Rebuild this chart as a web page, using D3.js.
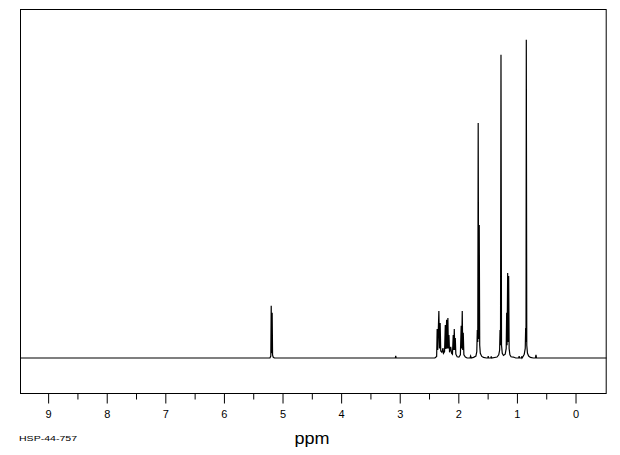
<!DOCTYPE html>
<html>
<head>
<meta charset="utf-8">
<script src="https://cdn.jsdelivr.net/npm/d3@7"></script>
<style>
  html, body { margin: 0; padding: 0; background: #fff; }
  svg { display: block; }
  text { font-family: "Liberation Sans", "DejaVu Sans", sans-serif; fill: #000; }
</style>
</head>
<body>
<svg id="chart" width="620" height="455"></svg>
<script>
// ---- data ----
const majorTicks = [9, 8, 7, 6, 5, 4, 3, 2, 1, 0];
const minorTicks = [8.5, 7.5, 6.5, 5.5, 4.5, 3.5, 2.5, 1.5, 0.5];
const xLabel = "ppm";
const sampleId = "HSP-44-757";

// spectrum trace: [chemical shift (ppm), intensity (tallest = 100)]
const trace = [
  [9.48, 0],
  [5.215, 0], [5.200, 0.6], [5.193, 16.4], [5.186, 1.5], [5.177, 14.2], [5.170, 1.0], [5.160, 0.3], [5.140, 0],
  [3.075, 0], [3.068, 0.7], [3.061, 0],
  [2.400, 0], [2.370, 0.5], [2.361, 9.1], [2.352, 2.5], [2.332, 14.8], [2.322, 3.0], [2.310, 11.0], [2.300, 2.2],
  [2.280, 1.8], [2.262, 3.1], [2.252, 1.5], [2.235, 2.0], [2.222, 10.4], [2.212, 2.8], [2.200, 12.0], [2.190, 3.0],
  [2.178, 12.6], [2.170, 3.0], [2.160, 7.2], [2.150, 1.8], [2.130, 3.5], [2.115, 1.5], [2.100, 1.2], [2.087, 7.2],
  [2.078, 2.5], [2.069, 9.1], [2.060, 2.5], [2.052, 6.3], [2.042, 1.2], [2.020, 0.4], [1.990, 0.3], [1.965, 1.0],
  [1.951, 10.1], [1.943, 3.0], [1.933, 14.8], [1.925, 2.5], [1.916, 7.9], [1.905, 1.0], [1.880, 0.3], [1.850, 0],
  [1.800, 0], [1.790, 0.6], [1.780, 0], [1.740, 0.2], [1.700, 0.6], [1.685, 2.0], [1.676, 8.8], [1.668, 5.0],
  [1.661, 73.9], [1.652, 6.0], [1.643, 41.8], [1.635, 4.0], [1.625, 1.5], [1.600, 0.5], [1.570, 0.2], [1.520, 0],
  [1.497, 0], [1.490, 0.6], [1.483, 0], [1.445, 0], [1.438, 0.5], [1.431, 0],
  [1.340, 0.3], [1.310, 1.0], [1.295, 2.5], [1.288, 8.8], [1.280, 4.0], [1.272, 95.3], [1.263, 4.0], [1.250, 1.5],
  [1.230, 0.8], [1.200, 1.2], [1.183, 3.0], [1.175, 14.2], [1.168, 4.0], [1.158, 26.7], [1.150, 5.0], [1.141, 25.8],
  [1.133, 3.0], [1.120, 1.0], [1.100, 0.4], [1.060, 0.3], [1.020, 0],
  [0.970, 0], [0.962, 0.6], [0.955, 0], [0.925, 0], [0.918, 0.5], [0.912, 0],
  [0.900, 0.3], [0.875, 1.2], [0.858, 3.0], [0.851, 9.4], [0.845, 5.0], [0.840, 100], [0.832, 4.0], [0.820, 1.5],
  [0.800, 0.6], [0.770, 0.2], [0.720, 0],
  [0.685, 0], [0.675, 1.0], [0.665, 0],
  [-0.532, 0]
];

// ---- layout ----
const svg = d3.select("#chart");
const frame = { left: 20, top: 9, right: 606.7, bottom: 393 };

const x = d3.scaleLinear().domain([9.48, -0.532]).range([frame.left, frame.right]);
const y = d3.scaleLinear().domain([-11, 109.7]).range([frame.bottom, frame.top]);

svg.append("defs").append("clipPath").attr("id", "clip")
  .append("rect")
  .attr("x", frame.left).attr("y", frame.top)
  .attr("width", frame.right - frame.left).attr("height", frame.bottom - frame.top);

// spectrum
const line = d3.line().x(d => x(d[0])).y(d => y(d[1]));
svg.append("path")
  .datum(trace)
  .attr("clip-path", "url(#clip)")
  .attr("d", line)
  .attr("fill", "none")
  .attr("stroke", "#000")
  .attr("stroke-width", 1.2)
  .attr("stroke-linejoin", "miter");

// frame
svg.append("rect")
  .attr("x", frame.left + 0.5).attr("y", frame.top + 0.5)
  .attr("width", frame.right - frame.left - 1).attr("height", frame.bottom - frame.top)
  .attr("fill", "none").attr("stroke", "#000").attr("stroke-width", 1);

// axis
const axisG = svg.append("g").attr("transform", `translate(0,${frame.bottom + 0.5})`);
const majorAxis = d3.axisBottom(x).tickValues(majorTicks).tickSize(10).tickSizeOuter(0)
  .tickFormat(d3.format("d"));
axisG.call(majorAxis);
axisG.select(".domain").remove();
axisG.selectAll(".tick line").attr("stroke", "#000").attr("stroke-width", 1);
axisG.selectAll(".tick text")
  .attr("y", 24.5).attr("dy", 0)
  .style("font-size", "11px")
  .attr("fill", "#000");

const minorG = svg.append("g").attr("transform", `translate(0,${frame.bottom + 0.5})`);
const minorAxis = d3.axisBottom(x).tickValues(minorTicks).tickSize(6).tickSizeOuter(0).tickFormat("");
minorG.call(minorAxis);
minorG.select(".domain").remove();
minorG.selectAll(".tick line").attr("stroke", "#000").attr("stroke-width", 1);

// labels
svg.append("text")
  .attr("x", 312).attr("y", 444)
  .attr("text-anchor", "middle")
  .attr("textLength", 35).attr("lengthAdjust", "spacingAndGlyphs")
  .style("font-size", "16px")
  .text(xLabel);

svg.append("text")
  .attr("x", 19).attr("y", 440.5)
  .attr("textLength", 58).attr("lengthAdjust", "spacingAndGlyphs")
  .style("font-size", "7.5px")
  .text(sampleId);
</script>
</body>
</html>
